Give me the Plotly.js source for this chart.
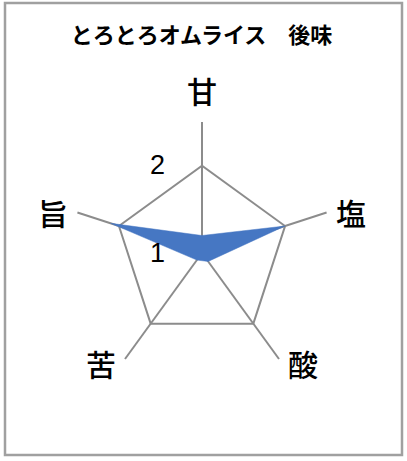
<!DOCTYPE html>
<html>
<head>
<meta charset="utf-8">
<script src="https://cdn.plot.ly/plotly-3.0.1.min.js"></script>
<style>
  html, body { margin: 0; padding: 0; background: #fff; }
  #chart { width: 407px; height: 461px; }
</style>
</head>
<body>
<div id="chart"></div>
<script>
// 味の項目（時計回り、上から）
const tastes = ['甘', '塩', '酸', '苦', '旨'];
// 後味の評価値
const aftertaste = [1.2, 2.0, 1.12, 1.1, 2.1];
// 目盛り
const radialTicks = [1, 2];
const radialTickText = ['1', '2'];

const W = 407, H = 461;
const jpFont = '"Noto Sans CJK JP", "Noto Sans", sans-serif';

// レーダーの中心と外周半径(px)
const cx = 202, cy = 253, outerR = 131;

// 項目名は軸の先端の外側に置く（上は上に、左右は横にずらす）
const labelAnnotations = tastes.map((t, i) => {
    const a = (90 - 72 * i) * Math.PI / 180;
    const ex = cx + outerR * Math.cos(a);
    const ey = cy - outerR * Math.sin(a);
    let dx = 0, dy = -32;
    if (Math.abs(Math.cos(a)) > 0.01) {
        dx = 24 * Math.sign(Math.cos(a));
        dy = Math.sin(a) < 0 ? 4 : -1;
    }
    return {
        text: t,
        xref: 'paper', yref: 'paper',
        x: (ex + dx) / W,
        y: 1 - (ey + dy) / H,
        xanchor: 'center', yanchor: 'middle',
        showarrow: false,
        font: { family: jpFont, size: 30, color: '#000', weight: 500 },
    };
});

const data = [{
    type: 'scatterpolar',
    r: aftertaste.concat(aftertaste[0]),
    theta: tastes.concat(tastes[0]),
    mode: 'lines',
    fill: 'toself',
    fillcolor: '#4677c3',
    line: { color: '#4677c3', width: 0.5 },
    hoverinfo: 'skip',
    showlegend: false,
}];

const layout = {
    width: W,
    height: H,
    margin: { l: 0, r: 0, t: 0, b: 0 },
    paper_bgcolor: '#fff',
    title: {
        text: 'とろとろオムライス　後味',
        font: { family: jpFont, size: 22, color: '#000', weight: 'bold' },
        x: 0.495,
        xanchor: 'center',
        y: 1 - 35 / H,
        yanchor: 'middle',
    },
    polar: {
        domain: {
            x: [(cx - outerR) / W, (cx + outerR) / W],
            y: [1 - (cy + outerR) / H, 1 - (cy - outerR) / H],
        },
        bgcolor: '#fff',
        gridshape: 'linear',
        angularaxis: {
            rotation: 90,
            direction: 'clockwise',
            categoryorder: 'array',
            categoryarray: tastes,
            showline: false,
            showgrid: true,
            gridcolor: '#8c8c8c',
            gridwidth: 2,
            showticklabels: false,
            ticks: '',
        },
        radialaxis: {
            range: [1, 2.5],
            angle: 90,
            side: 'counterclockwise',
            tickvals: radialTicks,
            ticktext: radialTickText,
            tickangle: 90,
            showline: false,
            showgrid: true,
            gridcolor: '#8c8c8c',
            gridwidth: 2,
            ticks: 'outside',
            ticklen: 27,
            tickcolor: 'rgba(0,0,0,0)',
            tickfont: { family: '"Liberation Sans", Arial, sans-serif', size: 27, color: '#000' },
        },
    },
    annotations: labelAnnotations,
    shapes: [{
        type: 'rect',
        xref: 'paper', yref: 'paper',
        x0: 5 / W, x1: 402 / W,
        y0: 1 - 455 / H, y1: 1 - 3 / H,
        line: { color: '#a0a0a0', width: 2.5 },
    }],
};

Plotly.newPlot('chart', data, layout, { displayModeBar: false, staticPlot: true });
</script>
</body>
</html>
